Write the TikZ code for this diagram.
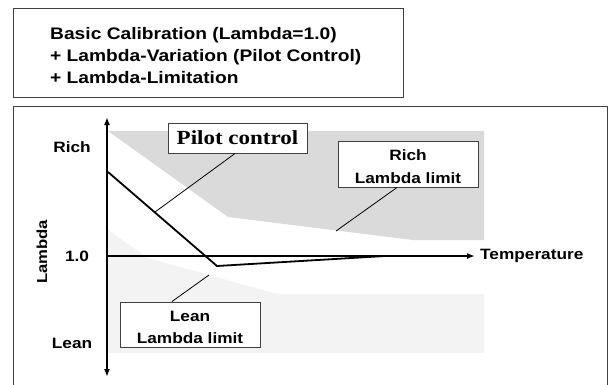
\documentclass[tikz,border=0pt]{standalone}
\usepackage{fontspec}
\setmainfont{Liberation Sans}[FakeStretch=1.15]
\newfontfamily\pilotfont{Liberation Serif}[FakeStretch=1.15]
\usetikzlibrary{arrows.meta}
\definecolor{richgray}{RGB}{218,218,218}
\definecolor{leangray}{RGB}{243,243,243}
\definecolor{framegray}{RGB}{64,64,64}
\begin{document}
\begin{tikzpicture}[x=1pt,y=-1pt,
  frame/.style={draw=framegray, line width=1pt},
  lbl/.style={font=\bfseries\fontsize{15}{18}\selectfont, inner sep=0pt},
  toptext/.style={font=\bfseries\fontsize{16.7}{20}\selectfont, inner sep=0pt, anchor=base west},
  callout/.style={draw=framegray, line width=1pt, fill=white, align=center,
    font=\bfseries\fontsize{15}{22.5}\selectfont, inner sep=0pt},
  leader/.style={line width=0.8pt},
  axisline/.style={line width=1.8pt},
  tip/.style={-{Latex[length=8pt,width=6pt]}},
  curve/.style={line width=1.8pt, line join=miter},
]
\useasboundingbox (0,0) rectangle (613,384);
% top box
\draw[frame] (13,8) rectangle (403,97);
\node[toptext] (t1) at (50,39) {Basic Calibration (Lambda=1.0)};
\node[toptext] (t2) at (50,61) {+ Lambda-Variation (Pilot Control)};
\node[toptext] (t3) at (50,83) {+ Lambda-Limitation};
% main box
\draw[frame] (13,106) rectangle (607,392);
% regions
\fill[richgray] (108,131) -- (484,131) -- (484,240) -- (413,240) -- (228,217) -- cycle;
\fill[leangray] (108,230) -- (148,258) -- (277,294) -- (484,294) -- (484,353) -- (108,353) -- cycle;
% axes
\coordinate (ybot) at (107,377);
\coordinate (ytop) at (107,117);
\coordinate (xorig) at (107,256);
\coordinate (xend) at (475,256);
\draw[axisline, {Latex[length=8pt,width=6pt]}-{Latex[length=8pt,width=6pt]}] (ybot) -- (ytop);
\draw[axisline, tip] (xorig) -- (xend);
\node[lbl, anchor=west] (temp) at (480,256) {Temperature};
\node[lbl] (rich lbl) at (72,147) {Rich};
\node[lbl] (one) at (77,256) {1.0};
\node[lbl] (lean lbl) at (72,343) {Lean};
\node[lbl, rotate=90, font=\bfseries\fontsize{14.5}{18}\selectfont] (lambda) at (42,252) {Lambda};
% pilot control curve
\coordinate (p0) at (108,172);
\coordinate (p1) at (217,266);
\coordinate (p2) at (385,256);
\draw[curve] (p0) -- (p1) -- (p2);
% callouts
\node[callout, minimum width=139pt, minimum height=30pt,
  font=\pilotfont\bfseries\fontsize{20}{22}\selectfont] (pilot) at (237.5,138) {Pilot control};
\node[callout, minimum width=140pt, minimum height=46pt] (rich) at (408,164) {\rule{0pt}{16pt}Rich\\Lambda limit};
\node[callout, minimum width=140pt, minimum height=45pt] (lean) at (190,324.5) {\rule{0pt}{16pt}Lean\\Lambda limit};
\coordinate (pl) at (155,212);
\coordinate (rl) at (336,231);
\coordinate (ll) at (209,275);
\draw[leader] ([xshift=-2.5pt]pilot.south) -- (pl);
\draw[leader] ([xshift=-11pt]rich.south) -- (rl);
\draw[leader] ([xshift=-18pt]lean.north) -- (ll);
\end{tikzpicture}
\end{document}
